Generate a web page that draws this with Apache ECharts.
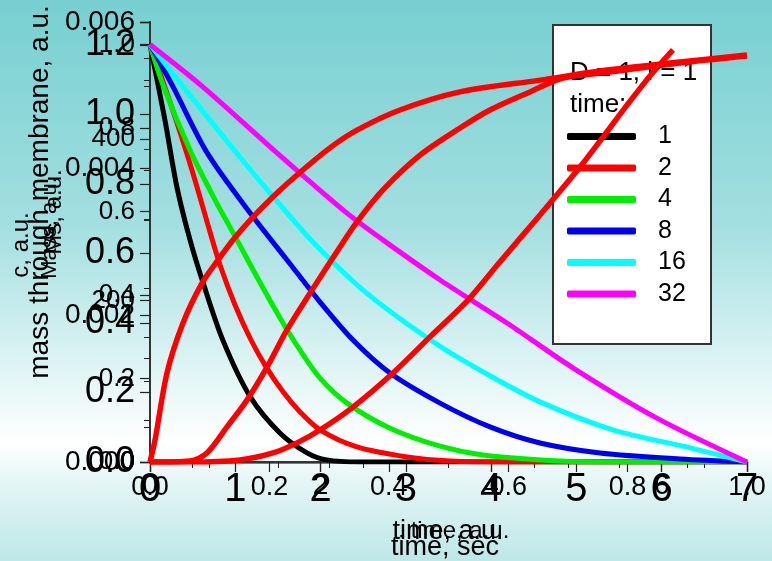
<!DOCTYPE html>
<html><head><meta charset="utf-8">
<script src="https://cdn.jsdelivr.net/npm/echarts@6/dist/echarts.min.js"></script>
<style>
html,body{margin:0;padding:0;}
body{width:772px;height:561px;background:linear-gradient(to bottom,#77cfd1 0%,#a3dfe0 40%,#ffffff 79%,#e4f5f5 86%,#bde7e8 100%);}
#c{width:772px;height:561px;}
</style>
</head><body><div id="c"></div>
<script>
// Concentration profiles c(x) at several times (position 0..1, c 0..1)
const legendNames = ['1','2','4','8','16','32'];
const profileColors = ['#000000','#ff0000','#00ee00','#0000ee','#00ffff','#ff00ff'];
const x_t1 = [0,0.025,0.045,0.067,0.089,0.122,0.168,0.218,0.263,0.296,0.35,1.0];
const c_t1 = [1.0,0.819,0.659,0.532,0.429,0.292,0.156,0.069,0.022,0.005,0,0];
const x_t2 = [0,0.0369,0.0704,0.1005,0.1173,0.1424,0.1675,0.1926,0.2228,0.2513,0.2848,0.3467,0.4305,0.5025,0.6030,1.0];
const c_t2 = [1.0,0.848,0.699,0.551,0.472,0.376,0.297,0.232,0.168,0.120,0.077,0.036,0.012,0.0024,0,0];
const x_t4 = [0,0.0218,0.0670,0.1089,0.1457,0.1792,0.2178,0.2513,0.2848,0.3300,0.4020,0.4858,0.5578,0.6868,0.7873,1.0];
const c_t4 = [1.0,0.903,0.747,0.628,0.532,0.443,0.345,0.268,0.201,0.141,0.081,0.038,0.017,0.0024,0,0];
const x_t8 = [0,0.0385,0.0955,0.1675,0.2295,0.2848,0.3400,0.4020,0.4858,0.5695,0.6533,0.7538,0.8878,1.0];
const c_t8 = [1.0,0.899,0.741,0.597,0.484,0.383,0.292,0.213,0.141,0.084,0.0455,0.0216,0.0072,0];
const x_t16 = [0,0.0553,0.1457,0.2228,0.2797,0.3635,0.4774,0.5578,0.6533,0.7755,0.9045,1.0];
const c_t16 = [1.0,0.899,0.739,0.608,0.517,0.404,0.285,0.216,0.144,0.077,0.034,0];
const x_t32 = [0,0.089,0.213,0.330,0.390,0.486,0.598,0.709,0.849,1.0];
const c_t32 = [1.0,0.898,0.740,0.596,0.532,0.436,0.333,0.225,0.105,0];

// Mass through membrane vs time (three red curves)
const tA = [0,0.059,0.199,0.387,0.610,0.797,0.973,1.196,1.489,1.724,2.110,2.427,2.931,3.635,4.573,5.358,6.214,7.0];
const mA = [0,0.063,0.256,0.400,0.515,0.581,0.639,0.702,0.774,0.826,0.904,0.955,1.013,1.065,1.099,1.128,1.151,1.171];
const tB = [0,0.469,0.668,0.903,1.137,1.372,1.606,1.876,2.228,2.427,2.732,3.166,3.635,3.986,4.455,4.842,5.393,6.214,7.0];
const mB = [0,0.003,0.026,0.101,0.178,0.273,0.380,0.486,0.619,0.691,0.783,0.883,0.961,1.013,1.065,1.105,1.122,1.148,1.168];
const tC = [0,0.469,1.055,1.442,1.724,1.993,2.380,2.849,3.283,3.728,4.104,4.573,5.042,5.311,5.593,5.862,6.132];
const mC = [0,0,0.006,0.026,0.055,0.092,0.158,0.256,0.360,0.466,0.576,0.711,0.849,0.935,1.027,1.111,1.186];

const FONT = "'Liberation Sans', Arial, sans-serif";
const zip = (a,b) => a.map((v,i)=>[v,b[i]]);

function xAx(o){
  return Object.assign({type:'value',position:'bottom',offset:0,
    axisLine:{show:true,onZero:false,lineStyle:{color:'#333',width:1.5}},
    axisTick:{show:true,length:10,lineStyle:{color:'#222',width:1.2}},
    splitLine:{show:false}},o);
}
function yAx(o){
  return Object.assign({type:'value',position:'left',offset:0,
    axisLine:{show:true,onZero:false,lineStyle:{color:'#333',width:1.5}},
    axisTick:{show:true,length:10,lineStyle:{color:'#222',width:1.2}},
    splitLine:{show:false}},o);
}

const profiles = [[x_t1,c_t1],[x_t2,c_t2],[x_t4,c_t4],[x_t8,c_t8],[x_t16,c_t16],[x_t32,c_t32]];
const series = profiles.map((p,i)=>({
  name:legendNames[i], type:'line', xAxisIndex:1, yAxisIndex:1,
  data:zip(p[0],p[1]), smooth:0.3, showSymbol:false, symbol:'none',
  lineStyle:{color:profileColors[i],width:5}, itemStyle:{color:profileColors[i]}, z:3
}));
[[tA,mA],[tB,mB],[tC,mC]].forEach(p=>{
  series.push({type:'line',xAxisIndex:0,yAxisIndex:0,data:zip(p[0],p[1]),smooth:0.3,
    showSymbol:false,symbol:'none',lineStyle:{color:'#ff0000',width:5.5},z:4});
});

const chart = echarts.init(document.getElementById('c'));
chart.setOption({
  backgroundColor:'transparent',
  animation:false,
  textStyle:{fontFamily:FONT},
  grid:{left:150,right:25,top:22,bottom:99,containLabel:false},
  xAxis:[
    xAx({min:0,max:7,interval:1,axisLine:{show:true,onZero:false,lineStyle:{color:'#555',width:2.5}},
      axisLabel:{fontSize:40,margin:8,color:'#000',fontFamily:FONT}}),
    xAx({min:0,max:1,interval:0.2,minorTick:{show:true,splitNumber:2,length:6,lineStyle:{color:'#222'}},
      axisLabel:{fontSize:27,margin:12,color:'#000',fontFamily:FONT,formatter:v=>v.toFixed(1)}}),
    xAx({min:0,max:7,interval:2,minorTick:{show:true,splitNumber:4,length:6,lineStyle:{color:'#222'}},
      axisLabel:{fontSize:28,margin:10,color:'#000',fontFamily:FONT,showMaxLabel:false}})
  ],
  yAxis:[
    yAx({min:0,max:1.2662,interval:0.2,minorTick:{show:true,splitNumber:2,length:6,lineStyle:{color:'#222'}},
      axisLabel:{fontSize:36,margin:15,color:'#000',fontFamily:FONT,showMaxLabel:false,formatter:v=>v.toFixed(1)}}),
    yAx({min:0,max:1.0539,interval:0.2,minorTick:{show:true,splitNumber:2,length:6,lineStyle:{color:'#222'}},
      axisLabel:{fontSize:26,margin:15,color:'#000',fontFamily:FONT,showMaxLabel:false,formatter:v=>v.toFixed(1)}}),
    yAx({min:0,max:0.006,interval:0.002,
      axisLabel:{fontSize:28,margin:15,color:'#000',fontFamily:FONT,formatter:v=>v.toFixed(3)}}),
    yAx({min:0,max:545,interval:200,minorTick:{show:true,splitNumber:2,length:6,lineStyle:{color:'#222'}},
      axisLabel:{fontSize:26,margin:15,color:'#000',fontFamily:FONT,showMaxLabel:false}})
  ],
  legend:{
    data:legendNames, orient:'vertical', left:567, top:124, padding:0,
    itemWidth:69, itemHeight:7, itemGap:6.5, icon:'roundRect', selectedMode:false, z:1,
    textStyle:{fontSize:25, lineHeight:25, color:'#000', fontFamily:FONT, padding:[0,0,0,17]}
  },
  graphic:[
    {type:'rect', z:0, shape:{x:553,y:25,width:158,height:319}, style:{fill:'#ffffff',stroke:'#333',lineWidth:2}},
    {type:'text', z:1, left:570, top:60, style:{text:'D = 1, l = 1', fontSize:26, fill:'#000', fontFamily:FONT}},
    {type:'text', z:1, left:570, top:92, style:{text:'time:', fontSize:26, fill:'#000', fontFamily:FONT}},
    {type:'text', z:1, x:40, y:192, rotation:Math.PI/2, style:{text:'mass through membrane, a.u.', fontSize:28, fill:'#000', fontFamily:FONT, textAlign:'center', textVerticalAlign:'middle'}},
    {type:'text', z:1, x:21, y:245, rotation:Math.PI/2, style:{text:'c, a.u.', fontSize:24, fill:'#000', fontFamily:FONT, textAlign:'center', textVerticalAlign:'middle'}},
    {type:'text', z:1, x:54, y:212, rotation:Math.PI/2, style:{text:'Ms, a.u.', fontSize:24, fill:'#000', fontFamily:FONT, textAlign:'center', textVerticalAlign:'middle'}},
    {type:'text', z:1, x:50, y:228, rotation:Math.PI/2, style:{text:'Mass, a.u.', fontSize:22, fill:'#000', fontFamily:FONT, textAlign:'center', textVerticalAlign:'middle'}},
    {type:'text', z:1, x:448, y:532, style:{text:'time, a.u.', fontSize:27, fill:'#000', fontFamily:FONT, textAlign:'center', textVerticalAlign:'middle'}},
    {type:'text', z:1, x:460, y:531, style:{text:'time, a.u.', fontSize:24, fill:'#000', fontFamily:FONT, textAlign:'center', textVerticalAlign:'middle'}},
    {type:'text', z:1, x:445, y:548, style:{text:'time, sec', fontSize:27, fill:'#000', fontFamily:FONT, textAlign:'center', textVerticalAlign:'middle'}}
  ],
  series:series
});
</script></body></html>
